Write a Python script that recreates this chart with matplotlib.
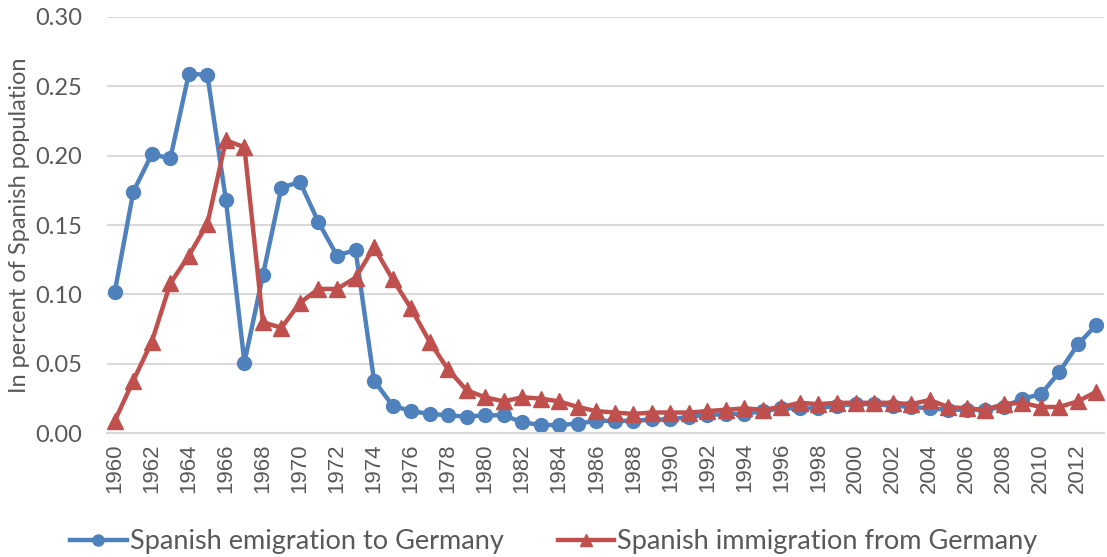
import numpy as np
import matplotlib
matplotlib.use('Agg')
import matplotlib.pyplot as plt

years = list(range(1960, 2014))

emigration = [0.102, 0.174, 0.201, 0.198, 0.259, 0.258, 0.168, 0.051, 0.114, 0.177,
              0.181, 0.152, 0.128, 0.132, 0.038, 0.020, 0.016, 0.014, 0.013, 0.012,
              0.013, 0.013, 0.008, 0.006, 0.006, 0.007, 0.009, 0.009, 0.009, 0.010,
              0.010, 0.012, 0.013, 0.014, 0.014, 0.016, 0.018, 0.018, 0.018, 0.020,
              0.021, 0.021, 0.020, 0.019, 0.018, 0.017, 0.017, 0.017, 0.019, 0.025,
              0.028, 0.044, 0.064, 0.078]

immigration = [0.009, 0.038, 0.066, 0.108, 0.128, 0.151, 0.211, 0.206, 0.080, 0.076,
               0.094, 0.104, 0.104, 0.112, 0.134, 0.111, 0.090, 0.066, 0.046, 0.031,
               0.026, 0.023, 0.026, 0.025, 0.023, 0.019, 0.016, 0.015, 0.014, 0.015,
               0.015, 0.015, 0.016, 0.017, 0.018, 0.017, 0.019, 0.022, 0.021, 0.022,
               0.022, 0.022, 0.022, 0.021, 0.024, 0.019, 0.018, 0.017, 0.021, 0.022,
               0.019, 0.019, 0.023, 0.030]

blue = '#4F81BD'
red = '#C0504D'
grey = '#595959'

fig = plt.figure(figsize=(11.07, 5.57), dpi=100)
ax = fig.add_axes([0.097, 0.222, 0.9, 0.748])

ax.plot(years, emigration, '-o', color=blue, lw=3.2, ms=10, label='Spanish emigration to Germany')
ax.plot(years, immigration, '-^', color=red, lw=3.2, ms=11, label='Spanish immigration from Germany')

ax.set_ylim(0, 0.30)
ax.set_yticks(np.arange(0, 0.301, 0.05))
ax.set_yticklabels(['%.2f' % v for v in np.arange(0, 0.301, 0.05)],
                   fontsize=17, color=grey, family='Lato')
ax.set_xlim(1959.6, 2013.4)
ax.set_xticks(years[::2])
ax.set_xticklabels([str(y) for y in years[::2]], rotation=90, fontsize=16,
                   color=grey, family='Liberation Sans')
ax.tick_params(axis='y', length=0, pad=18)
ax.tick_params(axis='x', length=0, pad=7)
ax.grid(axis='y', color='#D9D9D9', lw=1.5)
ax.set_axisbelow(True)
for s in ['top', 'right', 'left']:
    ax.spines[s].set_visible(False)
ax.spines['bottom'].set_color('#D9D9D9')
ax.spines['bottom'].set_linewidth(1.5)

ax.set_ylabel('In percent of Spanish population', fontsize=17, color=grey,
              family='Lato', labelpad=4)

leg = ax.legend(loc='center', bbox_to_anchor=(0.448, -0.26), ncol=2, frameon=False,
                prop={'family': 'Lato', 'size': 19.5}, handlelength=2.1,
                columnspacing=2.0, handletextpad=0.1, markerscale=0.8)
for t in leg.get_texts():
    t.set_color(grey)

fig.savefig('out.png', dpi=100)
